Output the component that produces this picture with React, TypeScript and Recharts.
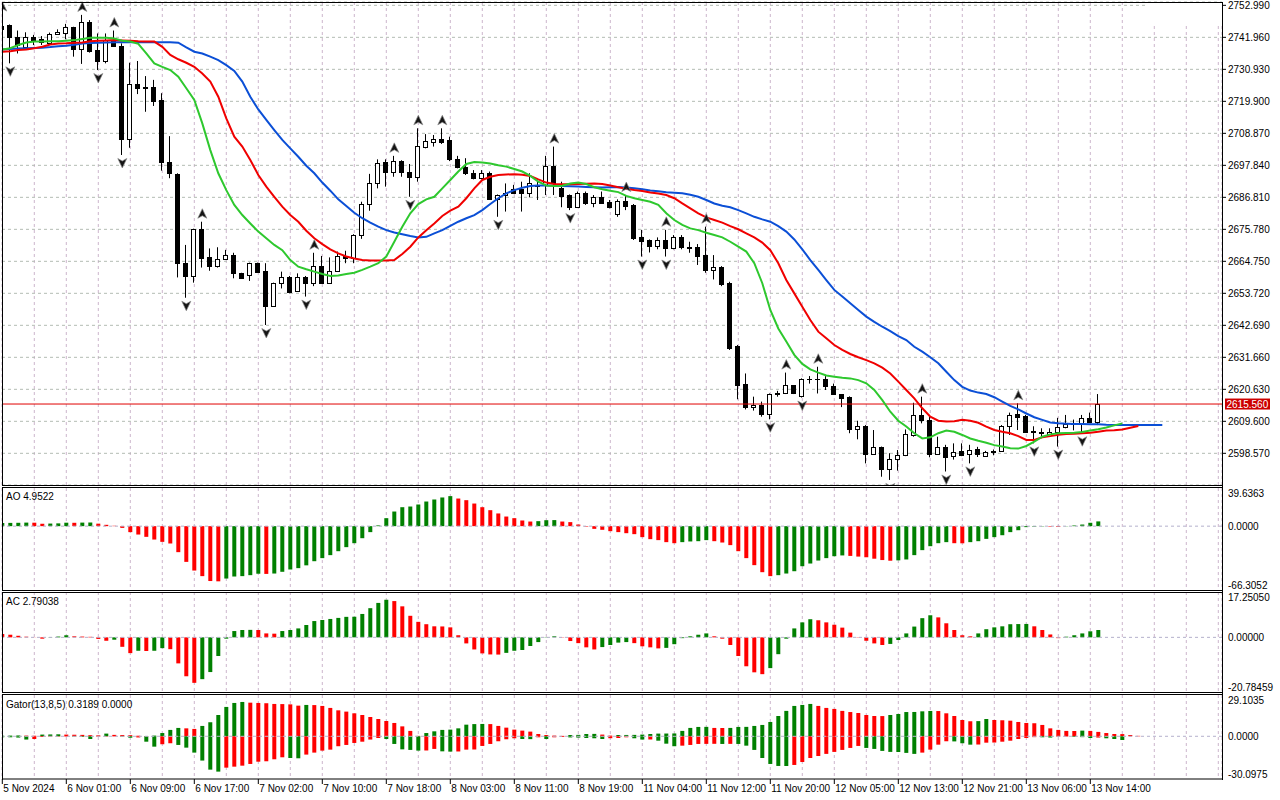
import React from "react";
import {
  ComposedChart,
  Bar,
  Line,
  Scatter,
  XAxis,
  YAxis,
  CartesianGrid,
  ReferenceLine,
  Cell,
} from "recharts";

// ---- data (H1 bars, index 0 = first bar on screen) ----
const xLabels = [
  "5 Nov 2024", "6 Nov 01:00", "6 Nov 09:00", "6 Nov 17:00", "7 Nov 02:00", "7 Nov 10:00",
  "7 Nov 18:00", "8 Nov 03:00", "8 Nov 11:00", "8 Nov 19:00", "11 Nov 04:00", "11 Nov 12:00",
  "11 Nov 20:00", "12 Nov 05:00", "12 Nov 13:00", "12 Nov 21:00", "13 Nov 06:00", "13 Nov 14:00",
];

const priceTicks = [
  2598.57, 2609.6, 2620.63, 2631.66, 2642.69, 2653.72, 2664.75, 2675.78,
  2686.81, 2697.84, 2708.87, 2719.9, 2730.93, 2741.96, 2752.99,
];

const open = [
  2744.8, 2746.2, 2742.0, 2738.7, 2742.0, 2741.3, 2739.9, 2743.0, 2743.3, 2745.4,
  2737.8, 2747.1, 2737.6, 2733.8, 2741.0, 2739.0, 2706.8, 2725.8, 2724.7, 2724.7,
  2720.4, 2698.9, 2694.9, 2664.1, 2659.8, 2675.8, 2666.1, 2663.2, 2665.4, 2666.9,
  2660.6, 2660.0, 2664.1, 2661.4, 2649.4, 2657.2, 2659.5, 2654.6, 2659.5, 2657.2,
  2663.2, 2657.4, 2661.5, 2666.6, 2665.8, 2673.8, 2684.5, 2691.6, 2698.9, 2695.7,
  2699.3, 2695.4, 2693.9, 2704.3, 2705.8, 2706.9, 2706.6, 2699.9, 2697.4, 2695.1,
  2693.4, 2695.1, 2686.1, 2687.6, 2689.6, 2689.6, 2688.4, 2691.1, 2691.1, 2697.6,
  2689.9, 2687.6, 2683.4, 2688.2, 2685.0, 2686.8, 2685.3, 2680.9, 2685.5, 2684.2,
  2673.0, 2672.1, 2670.2, 2672.1, 2669.2, 2673.0, 2669.6, 2669.6, 2666.9, 2661.9,
  2662.9, 2657.4, 2635.6, 2622.5, 2614.4, 2615.2, 2612.1, 2619.0, 2619.2, 2622.1,
  2618.4, 2624.1, 2624.1, 2624.1, 2621.8, 2618.9, 2618.1, 2606.8, 2608.0, 2598.3,
  2600.6, 2593.0, 2596.5, 2598.0, 2604.9, 2611.8, 2610.2, 2598.3, 2600.6, 2597.6,
  2599.4, 2598.3, 2599.9, 2597.6, 2599.0, 2599.4, 2607.9, 2612.1, 2611.5, 2606.2,
  2605.8, 2605.1, 2606.0, 2607.5, 2608.6, 2608.7, 2610.6, 2609.5,
];
const high = [
  2749.8, 2746.4, 2744.3, 2743.7, 2742.8, 2742.4, 2743.6, 2744.7, 2746.6, 2745.6,
  2749.7, 2747.9, 2743.3, 2743.3, 2744.3, 2739.9, 2733.2, 2733.8, 2728.6, 2727.3,
  2722.7, 2707.9, 2695.1, 2670.4, 2676.0, 2678.4, 2669.2, 2669.6, 2668.7, 2667.7,
  2660.8, 2664.3, 2664.3, 2664.1, 2657.4, 2661.2, 2659.7, 2660.6, 2659.7, 2667.7,
  2666.6, 2666.1, 2668.1, 2668.4, 2674.1, 2685.3, 2694.9, 2699.9, 2699.9, 2701.1,
  2699.6, 2698.3, 2710.6, 2708.6, 2708.3, 2710.6, 2707.7, 2701.1, 2700.3, 2696.2,
  2696.2, 2695.7, 2687.8, 2691.6, 2691.1, 2692.2, 2695.1, 2692.2, 2701.1, 2704.3,
  2692.2, 2687.8, 2688.8, 2688.8, 2687.6, 2688.8, 2685.9, 2686.1, 2687.6, 2684.5,
  2675.6, 2672.3, 2673.0, 2675.6, 2673.8, 2673.8, 2671.5, 2670.7, 2676.7, 2666.9,
  2663.1, 2657.7, 2635.9, 2626.1, 2618.1, 2616.4, 2619.2, 2620.1, 2626.4, 2622.1,
  2624.4, 2625.2, 2628.4, 2625.2, 2622.6, 2619.0, 2618.2, 2609.8, 2608.3, 2606.6,
  2600.9, 2598.6, 2599.7, 2606.8, 2616.0, 2618.1, 2611.8, 2604.3, 2601.5, 2602.0,
  2602.0, 2601.5, 2600.8, 2599.4, 2599.9, 2608.3, 2612.6, 2615.8, 2611.8, 2607.9,
  2607.2, 2607.2, 2610.8, 2611.8, 2610.2, 2611.8, 2612.6, 2619.0,
];
const low = [
  2744.3, 2733.0, 2736.4, 2738.2, 2739.3, 2739.3, 2739.7, 2742.8, 2741.3, 2735.3,
  2732.8, 2736.7, 2730.7, 2733.0, 2738.7, 2701.4, 2703.9, 2722.4, 2716.3, 2718.3,
  2696.0, 2693.4, 2659.2, 2652.2, 2657.4, 2662.6, 2661.5, 2662.6, 2665.2, 2658.9,
  2658.7, 2658.0, 2660.8, 2642.8, 2649.1, 2655.4, 2653.7, 2654.4, 2652.6, 2656.2,
  2657.2, 2657.4, 2661.2, 2664.1, 2664.1, 2672.5, 2682.2, 2689.9, 2690.5, 2693.9,
  2693.9, 2687.0, 2692.2, 2703.7, 2704.3, 2705.2, 2699.3, 2696.8, 2694.5, 2693.0,
  2693.0, 2685.9, 2680.1, 2681.9, 2688.2, 2681.9, 2686.8, 2685.9, 2687.6, 2687.6,
  2683.4, 2682.4, 2683.2, 2684.2, 2683.4, 2684.7, 2683.0, 2680.1, 2682.4, 2672.1,
  2666.4, 2667.8, 2668.9, 2666.4, 2668.9, 2668.9, 2667.7, 2663.5, 2660.8, 2658.5,
  2656.2, 2634.2, 2617.2, 2613.7, 2613.3, 2611.2, 2610.3, 2618.1, 2619.0, 2619.0,
  2617.8, 2622.6, 2619.2, 2620.4, 2618.7, 2614.5, 2605.5, 2603.4, 2595.1, 2598.0,
  2590.5, 2589.4, 2592.6, 2597.6, 2604.3, 2608.9, 2597.2, 2598.0, 2592.3, 2596.4,
  2597.6, 2595.1, 2597.3, 2597.3, 2597.9, 2599.1, 2604.9, 2606.6, 2605.7, 2602.0,
  2604.5, 2604.8, 2600.9, 2607.2, 2606.5, 2605.5, 2609.1, 2608.3,
];
const close = [
  2746.0, 2742.0, 2739.3, 2742.0, 2741.0, 2740.4, 2743.1, 2743.8, 2745.4, 2737.8,
  2747.1, 2737.4, 2733.9, 2741.0, 2739.0, 2706.8, 2725.8, 2724.4, 2724.4, 2720.1,
  2699.1, 2695.1, 2664.1, 2659.8, 2675.8, 2666.0, 2663.2, 2665.6, 2666.8, 2660.6,
  2658.9, 2664.1, 2661.2, 2649.4, 2657.2, 2659.5, 2654.3, 2659.5, 2657.2, 2663.2,
  2657.4, 2661.5, 2666.6, 2665.9, 2673.8, 2684.5, 2691.6, 2698.8, 2695.7, 2699.3,
  2695.4, 2693.9, 2704.5, 2706.1, 2706.9, 2706.0, 2699.9, 2697.4, 2695.1, 2693.4,
  2695.1, 2686.1, 2687.6, 2688.4, 2688.4, 2688.4, 2691.6, 2690.8, 2697.6, 2691.9,
  2687.3, 2683.4, 2688.2, 2684.7, 2687.0, 2685.0, 2683.6, 2685.5, 2683.9, 2672.9,
  2671.9, 2670.2, 2672.1, 2669.2, 2673.0, 2669.6, 2669.2, 2666.7, 2661.9, 2662.9,
  2656.8, 2634.8, 2622.1, 2614.4, 2615.2, 2612.1, 2618.9, 2619.2, 2622.1, 2619.2,
  2624.1, 2624.3, 2624.2, 2621.8, 2619.0, 2617.8, 2606.8, 2608.0, 2598.3, 2600.6,
  2593.0, 2596.5, 2598.0, 2605.2, 2611.8, 2610.1, 2598.5, 2600.6, 2597.4, 2599.1,
  2597.9, 2599.7, 2598.3, 2599.1, 2599.2, 2607.9, 2611.8, 2611.2, 2606.0, 2605.9,
  2605.6, 2606.0, 2607.5, 2608.7, 2608.8, 2610.6, 2609.5, 2615.56,
];

// Alligator lines (already shifted forward, so they run past the last bar)
const jaw = [
  2737.8, 2737.9, 2738.1, 2738.2, 2738.3, 2738.4, 2738.6, 2738.9, 2739.1, 2739.4,
  2739.8, 2740.0, 2740.1, 2740.2, 2740.3, 2740.3, 2740.3, 2740.3, 2740.3, 2740.3,
  2740.3, 2740.3, 2740.1, 2738.5, 2737.0, 2736.4, 2735.3, 2734.1, 2732.4, 2730.4,
  2726.7, 2721.5, 2717.1, 2713.5, 2710.0, 2706.6, 2703.7, 2700.8, 2697.7, 2695.1,
  2691.9, 2689.1, 2686.1, 2683.8, 2681.5, 2679.6, 2678.1, 2676.7, 2675.5, 2674.7,
  2674.1, 2673.5, 2673.0, 2673.2, 2674.4, 2675.5, 2677.0, 2678.4, 2679.6, 2680.7,
  2682.4, 2684.5, 2686.5, 2688.2, 2689.3, 2690.1, 2690.7, 2690.9, 2690.9, 2690.8,
  2690.7, 2690.6, 2690.5, 2690.4, 2690.3, 2690.2, 2690.3, 2690.4, 2690.2, 2689.9,
  2689.6, 2689.2, 2688.9, 2688.6, 2688.4, 2688.2, 2687.7, 2687.0, 2685.9, 2684.7,
  2683.9, 2683.4, 2682.4, 2681.3, 2680.1, 2679.2, 2678.4, 2676.9, 2675.0, 2672.3,
  2668.9, 2665.2, 2661.8, 2658.3, 2654.9, 2652.6, 2650.3, 2648.0, 2645.7, 2643.9,
  2642.2, 2640.7, 2639.0, 2637.6, 2635.3, 2633.6, 2631.7, 2629.6, 2626.7, 2623.8,
  2621.5, 2620.2, 2619.5, 2619.0, 2617.9, 2616.4, 2614.9, 2613.7, 2612.3, 2611.0,
  2610.1, 2609.2, 2608.9, 2608.8, 2608.7, 2608.7, 2608.6, 2608.6, 2608.4, 2608.3,
  2608.3, 2608.3, 2608.3, 2608.3, 2608.3, 2608.3,
];
const teeth = [
  2737.0, 2737.2, 2737.6, 2737.8, 2738.2, 2738.7, 2739.5, 2739.8, 2739.9, 2740.1,
  2740.2, 2740.6, 2740.8, 2740.9, 2741.0, 2740.9, 2740.8, 2740.6, 2740.5, 2740.5,
  2738.7, 2735.9, 2734.4, 2733.2, 2731.8, 2729.5, 2726.7, 2721.5, 2714.0, 2707.7,
  2704.3, 2699.7, 2694.5, 2690.5, 2687.0, 2683.6, 2680.7, 2678.4, 2675.3, 2672.7,
  2670.7, 2668.9, 2667.5, 2666.4, 2665.7, 2665.2, 2665.0, 2665.0, 2665.0, 2665.2,
  2667.3, 2669.8, 2673.0, 2675.5, 2677.8, 2680.4, 2682.2, 2683.6, 2686.5, 2689.9,
  2692.8, 2693.9, 2694.5, 2694.7, 2694.8, 2694.6, 2694.2, 2693.0, 2691.9, 2691.4,
  2691.3, 2691.3, 2691.4, 2691.5, 2691.6, 2691.4, 2690.9, 2690.3, 2689.8, 2689.3,
  2689.0, 2688.5, 2688.1, 2687.6, 2686.5, 2684.7, 2683.0, 2681.3, 2679.9, 2679.0,
  2678.1, 2676.9, 2675.8, 2674.4, 2673.0, 2671.2, 2668.6, 2664.1, 2658.3, 2653.7,
  2649.1, 2644.5, 2640.5, 2638.2, 2635.9, 2634.2, 2632.8, 2631.7, 2630.7, 2629.6,
  2628.1, 2626.1, 2623.3, 2620.4, 2617.5, 2614.1, 2611.2, 2609.8, 2609.5, 2609.6,
  2610.1, 2609.8, 2609.1, 2607.8, 2606.6, 2606.0, 2605.5, 2604.5, 2603.2, 2603.2,
  2604.1, 2604.5, 2605.0, 2605.2, 2605.3, 2605.5, 2605.7, 2606.0, 2606.4, 2606.5,
  2606.8, 2607.4, 2608.0,
];
const lips = [
  2737.8, 2738.2, 2739.3, 2740.2, 2740.5, 2740.5, 2740.6, 2740.6, 2740.8, 2741.0,
  2741.4, 2741.8, 2741.8, 2741.8, 2741.6, 2740.8, 2740.5, 2739.7, 2736.4, 2733.0,
  2731.8, 2730.7, 2728.4, 2724.4, 2720.4, 2712.3, 2703.1, 2695.1, 2689.3, 2684.2,
  2680.7, 2677.8, 2675.0, 2672.7, 2670.4, 2668.6, 2665.2, 2662.9, 2662.0, 2661.2,
  2660.4, 2659.7, 2659.9, 2660.4, 2660.8, 2661.8, 2662.9, 2664.1, 2666.4, 2671.5,
  2676.7, 2681.3, 2684.5, 2686.1, 2687.0, 2689.9, 2692.8, 2695.7, 2698.3, 2699.0,
  2698.8, 2698.5, 2697.9, 2697.4, 2696.6, 2695.7, 2694.2, 2692.2, 2690.9, 2690.7,
  2690.8, 2691.6, 2691.9, 2691.4, 2690.3, 2689.6, 2689.1, 2688.6, 2687.3, 2686.5,
  2685.9, 2685.3, 2684.2, 2681.3, 2679.0, 2677.3, 2676.1, 2675.5, 2674.6, 2673.8,
  2673.0, 2671.5, 2669.8, 2668.1, 2664.1, 2657.2, 2648.0, 2641.6, 2637.1, 2632.5,
  2629.4, 2627.5, 2626.4, 2625.4, 2625.0, 2624.6, 2624.4, 2623.8, 2622.7, 2620.4,
  2616.9, 2612.9, 2609.8, 2607.8, 2605.5, 2603.7, 2604.1, 2605.5, 2606.4, 2606.0,
  2604.9, 2603.7, 2602.9, 2602.2, 2601.4, 2600.9, 2600.3, 2600.2, 2601.1, 2602.6,
  2604.3, 2605.1, 2605.5, 2605.6, 2605.7, 2605.9, 2606.4, 2606.9, 2607.5, 2608.2,
  2608.9,
];

const fractalUp = [0, 10, 14, 25, 39, 49, 52, 55, 69, 78, 83, 88, 98, 102, 115, 127];
const fractalDown = [1, 12, 15, 23, 33, 38, 51, 62, 71, 80, 83, 96, 100, 111, 118, 121, 129, 132, 135];

const ao = [
  3.2, 3.4, 3.5, 3.7, 3.6, 2.5, 2.7, 2.9, 3.6, 3.5,
  3.7, 3.8, 2.6, 1.4, 0.4, -1.8, -6.2, -8.7, -11.1, -13.9,
  -16.3, -18.0, -27.0, -37.1, -46.1, -51.9, -57.0, -57.3, -54.4, -52.3,
  -51.9, -50.9, -49.4, -49.6, -49.2, -47.4, -45.0, -43.6, -40.7, -36.4,
  -33.2, -30.1, -26.0, -21.8, -17.7, -12.5, -6.2, 0.8, 8.3, 15.2,
  19.7, 20.4, 22.5, 25.6, 27.7, 29.8, 31.2, 28.7, 27.0, 23.5,
  19.7, 16.6, 13.2, 10.0, 8.3, 5.9, 4.8, 5.2, 6.2, 6.3,
  4.8, 4.2, 1.7, -0.5, -2.8, -3.8, -5.2, -6.2, -7.3, -8.3,
  -11.4, -13.5, -14.5, -16.6, -17.7, -16.6, -15.9, -15.6, -14.5, -15.6,
  -17.0, -19.7, -26.0, -33.2, -40.5, -47.8, -51.9, -50.9, -49.2, -46.8,
  -41.6, -38.8, -35.7, -33.2, -31.2, -30.4, -30.9, -31.6, -32.3, -33.8,
  -35.2, -35.9, -35.5, -34.6, -30.1, -24.9, -20.8, -17.7, -16.6, -17.7,
  -17.8, -16.6, -15.6, -13.2, -11.4, -9.4, -6.2, -4.2, -1.0, -0.6,
  -0.3, -0.5, -0.8, -0.2, 0.7, 1.7, 3.5, 4.9522,
];
const ac = [
  1.3, 1.0, 0.6, 0.25, 0.05, -0.5, -0.1, 0.3, 0.8, 0.4,
  0.3, 0.2, -0.6, -1.3, -0.9, -3.6, -6.0, -5.1, -5.2, -5.1,
  -4.1, -4.5, -9.9, -14.8, -17.3, -15.9, -13.2, -7.1, -0.5, 2.4,
  2.8, 2.85, 2.8, 1.5, 1.4, 2.4, 2.8, 3.4, 4.7, 6.2,
  6.6, 7.0, 7.4, 7.8, 7.85, 8.9, 11.1, 13.1, 14.3, 13.8,
  11.8, 8.2, 5.9, 5.0, 4.2, 4.15, 3.8, 0.8, -2.3, -4.6,
  -6.1, -6.5, -6.55, -5.9, -5.1, -4.8, -3.3, -1.8, -0.1, 0.4,
  -0.1, -1.4, -2.2, -3.8, -4.6, -3.7, -2.9, -2.0, -1.8, -2.2,
  -3.4, -3.8, -4.2, -4.0, -2.6, -0.3, 0.4, 1.0, 1.5, 0.4,
  -0.5, -2.9, -7.1, -11.0, -13.3, -14.0, -11.7, -6.4, -0.5, 3.4,
  5.7, 6.9, 6.5, 5.7, 4.8, 3.7, 1.8, -0.1, -1.3, -2.3,
  -2.9, -2.5, -1.0, 1.5, 4.1, 7.3, 8.4, 7.6, 5.35, 2.8,
  0.8, 0.4, 1.5, 3.1, 3.8, 4.2, 5.0, 5.05, 5.1, 4.2,
  2.8, 1.1, -0.3, 0.25, 0.8, 1.5, 2.3, 2.79038,
];
const gatorUpper = [
  0.4, 0.5, 0.6, 0.5, 0.4, 1.2, 1.3, 1.4, 1.2, 1.1,
  1.0, 0.8, 0.7, 1.9, 1.0, 0.9, 0.8, 0.4, 0.2, 0.5,
  2.3, 4.5, 5.9, 5.6, 5.2, 7.3, 9.9, 15.0, 20.7, 23.5,
  24.2, 23.7, 23.5, 23.3, 22.8, 22.7, 22.5, 21.6, 22.1, 22.0,
  21.4, 20.0, 18.3, 17.4, 16.2, 15.0, 13.6, 12.2, 10.8, 9.4,
  7.0, 3.8, 0.3, 2.3, 3.5, 4.5, 4.7, 5.6, 8.2, 8.6,
  8.7, 8.6, 7.3, 6.1, 4.7, 4.0, 3.3, 1.6, 0.9, 0.5,
  0.3, 0.9, 1.0, 1.6, 1.7, 1.2, 0.5, 0.9, 0.95, 1.0,
  1.2, 1.6, 1.9, 1.95, 2.0, 3.8, 5.9, 6.6, 6.65, 5.9,
  5.85, 5.9, 6.6, 6.65, 7.3, 8.0, 10.1, 14.3, 17.9, 21.4,
  22.1, 22.8, 21.4, 20.0, 19.3, 17.9, 17.1, 16.4, 15.0, 14.3,
  14.25, 15.0, 15.7, 17.1, 17.15, 17.6, 17.85, 17.8, 16.2, 14.3,
  11.5, 10.6, 10.7, 12.2, 11.5, 11.3, 11.0, 10.1, 9.4, 9.2,
  8.0, 5.6, 4.5, 3.8, 3.75, 4.0, 3.8, 3.1, 2.3, 1.6,
  1.55, 0.9, 0.3189,
];
const gatorLower = [
  -0.6, -0.7, -0.9, -2.3, -1.9, -0.5, -0.3, -0.2, -0.2, -0.3,
  -0.4, -1.9, -0.3, -0.2, -0.1, -0.3, -1.0, -0.8, -3.8, -7.3,
  -5.6, -4.9, -6.1, -8.0, -11.5, -17.1, -23.5, -24.9, -22.1, -21.4,
  -20.7, -19.5, -17.9, -17.6, -16.2, -14.8, -15.3, -15.5, -12.9, -11.5,
  -10.1, -9.4, -7.0, -6.1, -4.7, -3.8, -2.3, -1.2, -1.9, -5.4,
  -9.2, -9.6, -10.1, -10.0, -8.9, -10.6, -10.8, -10.7, -9.4, -9.3,
  -6.8, -5.4, -3.5, -2.1, -1.4, -1.9, -2.0, -0.7, -1.9, -0.7,
  -0.5, -0.8, -0.9, -1.2, -1.4, -1.9, -1.35, -1.2, -0.7, -1.4,
  -2.3, -2.25, -3.1, -5.2, -7.0, -6.6, -6.1, -5.4, -5.35, -5.3,
  -5.4, -5.35, -5.4, -6.6, -9.6, -15.3, -19.5, -20.9, -20.95, -20.2,
  -18.1, -15.3, -13.9, -12.4, -11.0, -9.6, -8.2, -6.8, -8.2, -8.9,
  -10.3, -11.0, -11.05, -11.7, -12.4, -11.5, -9.4, -5.9, -3.5, -3.6,
  -4.9, -5.9, -5.8, -4.5, -4.4, -3.8, -3.1, -1.9, -1.2, -0.6,
  -0.7, -0.9, -0.3, -0.2, -0.4, -0.6, -1.2, -0.9, -1.4, -1.9,
  -2.6,
];

// ---- look ----
const FONT = "'Liberation Sans', Arial, sans-serif";
const FS = 10;
const GREEN = "#008000";
const RED = "#ff0000";
const GRID_V = "#ccb6cc";
const GRID_H = "#b4bcb4";
const BARS_PER_LABEL = 8;
const X_DOMAIN: [number, number] = [-0.0375, 152.4625];
const gridBars = Array.from({ length: 38 }, (_, k) => 4 * (k + 1));
const labelBars = xLabels.map((_, k) => k * BARS_PER_LABEL);
const lastClose = close[close.length - 1];

const priceRows = jaw.map((j, i) => ({
  i,
  range: i < close.length ? [low[i], high[i]] : undefined,
  open: open[i],
  close: close[i],
  jaw: j,
  teeth: teeth[i],
  lips: lips[i],
}));
const upMarks = fractalUp.map((i) => ({ i, y: high[i] }));
const downMarks = fractalDown.map((i) => ({ i, y: low[i] }));
const aoRows = ao.map((v, i) => ({ i, v }));
const acRows = ac.map((v, i) => ({ i, v }));
const gatorRows = gatorUpper.map((u, i) => ({ i, up: u, dn: gatorLower[i] }));

function swingColors(vals: number[], first: string, byMagnitude = false) {
  const out: string[] = [];
  vals.forEach((v, i) => {
    if (i === 0) {
      out.push(first);
      return;
    }
    const a = byMagnitude ? Math.abs(v) : v;
    const b = byMagnitude ? Math.abs(vals[i - 1]) : vals[i - 1];
    out.push(a > b ? GREEN : a < b ? RED : out[i - 1]);
  });
  return out;
}
const aoColors = swingColors(ao, GREEN);
const acColors = swingColors(ac, RED);
const upColors = swingColors(gatorUpper, GREEN, true);
const dnColors = swingColors(gatorLower, GREEN, true);

function Candle(props: any) {
  const { x, y, width, height, payload } = props;
  if (!payload || payload.open == null || !payload.range) return null;
  const [lo, hi] = payload.range;
  const top = Math.min(y, y + height);
  const h = Math.abs(height);
  if (!(hi > lo)) return null;
  const py = (v: number) => top + ((hi - v) / (hi - lo)) * h;
  const cx = Math.floor(x + width / 2) + 0.5;
  const yo = py(payload.open);
  const yc = py(payload.close);
  const bt = Math.round(Math.min(yo, yc)) + 0.5;
  const bb = Math.round(Math.max(yo, yc)) + 0.5;
  const bull = payload.close >= payload.open;
  return (
    <g>
      <line x1={cx} x2={cx} y1={top} y2={top + h} stroke="#000" strokeWidth={1} />
      {bb - bt < 1 ? (
        <line x1={cx - 2.5} x2={cx + 2.5} y1={bt} y2={bt} stroke="#000" strokeWidth={1} />
      ) : (
        <rect x={cx - 2} y={bt} width={4} height={bb - bt} fill={bull ? "#fff" : "#000"} stroke="#000" strokeWidth={1} />
      )}
    </g>
  );
}

const fractalShape = (dir: number) => (p: any) => {
  if (p.cx == null || p.cy == null) return <g />;
  const d = dir < 0 ? "M0,-5 L4.5,4.5 L0,2 L-4.5,4.5 Z" : "M0,5 L4.5,-4.5 L0,-2 L-4.5,-4.5 Z";
  return (
    <path d={d} transform={`translate(${p.cx},${p.cy + dir * 8})`} fill="#151515" stroke="#8a8a8a" strokeWidth={0.7} />
  );
};

function PriceTag(props: any) {
  const vb = props.viewBox;
  if (!vb) return null;
  const x = vb.x + vb.width + 3;
  const y = vb.y;
  return (
    <g>
      <rect x={x} y={y - 5.5} width={45} height={11} fill="#cc0000" />
      <text x={x + 1.5} y={y} dy="0.36em" fontSize={FS} fontFamily={FONT} fill="#fff">
        {lastClose.toFixed(3)}
      </text>
    </g>
  );
}

const priceTick = (p: any) => (
  <text x={p.x} y={p.y} dy="0.36em" fontSize={FS} fontFamily={FONT} fill="#000" textAnchor="start">
    {Number(p.payload.value).toFixed(3)}
  </text>
);

const edgeTick = (h: number, digits: number) => (p: any) => {
  const y = Math.min(Math.max(p.y, 5), h - 5);
  return (
    <text x={p.x} y={y} dy="0.36em" fontSize={FS} fontFamily={FONT} fill="#000" textAnchor="start">
      {Number(p.payload.value).toFixed(digits)}
    </text>
  );
};

const timeTick = (p: any) => (
  <text x={p.x + 1} y={p.y + 6} fontSize={FS} fontFamily={FONT} fill="#000" textAnchor="start">
    {xLabels[Math.round(p.payload.value / BARS_PER_LABEL)]}
  </text>
);

const margin = { top: 0, right: 0, bottom: 0, left: 2 };

function PricePanel() {
  return (
    <ComposedChart width={1280} height={485} data={priceRows} margin={{ ...margin, top: 2 }}>
      <CartesianGrid horizontal={false} stroke={GRID_V} strokeDasharray="3 3" />
      <CartesianGrid vertical={false} stroke={GRID_H} strokeDasharray="3 3" />
      <XAxis dataKey="i" type="number" domain={X_DOMAIN} allowDataOverflow ticks={gridBars} hide />
      <YAxis
        orientation="right"
        width={58}
        domain={[2587.65, 2754.14]}
        allowDataOverflow
        ticks={priceTicks}
        interval={0}
        axisLine={false}
        tickLine={{ stroke: "#000" }}
        tickSize={4}
        tickMargin={2}
        tick={priceTick}
      />
      <ReferenceLine y={lastClose} stroke="#e00000" strokeWidth={1} label={<PriceTag />} />
      <Bar dataKey="range" barSize={5} shape={<Candle />} isAnimationActive={false} />
      <Line dataKey="jaw" stroke="#0b4fd6" strokeWidth={2} dot={false} isAnimationActive={false} />
      <Line dataKey="teeth" stroke="#f00000" strokeWidth={2} dot={false} isAnimationActive={false} />
      <Line dataKey="lips" stroke="#2ec82e" strokeWidth={2} dot={false} isAnimationActive={false} />
      <Scatter data={upMarks} dataKey="y" shape={fractalShape(-1)} isAnimationActive={false} />
      <Scatter data={downMarks} dataKey="y" shape={fractalShape(1)} isAnimationActive={false} />
    </ComposedChart>
  );
}

function HistPanel({ rows, colors, domain, height, digits }: any) {
  return (
    <ComposedChart width={1280} height={height} data={rows} margin={margin}>
      <CartesianGrid horizontal={false} stroke={GRID_V} strokeDasharray="3 3" />
      <XAxis dataKey="i" type="number" domain={X_DOMAIN} allowDataOverflow ticks={gridBars} hide />
      <YAxis
        orientation="right"
        width={58}
        domain={domain}
        allowDataOverflow
        ticks={[domain[0], 0, domain[1]]}
        interval={0}
        axisLine={false}
        tickLine={false}
        tickSize={4}
        tickMargin={2}
        tick={edgeTick(height, digits)}
      />
      <ReferenceLine y={0} stroke="#b4b0cc" strokeDasharray="3 3" />
      <Bar dataKey="v" barSize={4} isAnimationActive={false}>
        {rows.map((r: any) => (
          <Cell key={r.i} fill={colors[r.i]} />
        ))}
      </Bar>
    </ComposedChart>
  );
}

function GatorPanel() {
  const domain: [number, number] = [-30.0975, 29.1035];
  return (
    <ComposedChart width={1280} height={105} data={gatorRows} margin={margin} stackOffset="sign">
      <CartesianGrid xAxisId="grid" horizontal={false} stroke={GRID_V} strokeDasharray="3 3" />
      <XAxis
        dataKey="i"
        type="number"
        domain={X_DOMAIN}
        allowDataOverflow
        ticks={labelBars}
        interval={0}
        height={21}
        tickSize={5}
        tickMargin={2}
        axisLine={{ stroke: "#000" }}
        tickLine={{ stroke: "#000" }}
        tick={timeTick}
      />
      <XAxis xAxisId="grid" dataKey="i" type="number" domain={X_DOMAIN} allowDataOverflow ticks={gridBars} hide />
      <YAxis
        orientation="right"
        width={58}
        domain={domain}
        allowDataOverflow
        ticks={[domain[0], 0, domain[1]]}
        interval={0}
        axisLine={false}
        tickLine={false}
        tickSize={4}
        tickMargin={2}
        tick={edgeTick(84, 4)}
      />
      <ReferenceLine y={0} stroke="#b4b0cc" strokeDasharray="3 3" />
      <Bar dataKey="up" stackId="g" barSize={4} isAnimationActive={false}>
        {gatorRows.map((r) => (
          <Cell key={r.i} fill={upColors[r.i]} />
        ))}
      </Bar>
      <Bar dataKey="dn" stackId="g" barSize={4} isAnimationActive={false}>
        {gatorRows.map((r) => (
          <Cell key={r.i} fill={dnColors[r.i] || GREEN} />
        ))}
      </Bar>
    </ComposedChart>
  );
}

const abs = (top: number): React.CSSProperties => ({ position: "absolute", left: 0, top });
const frame = (top: number, height: number, bottom = true): React.CSSProperties => ({
  position: "absolute",
  left: 2,
  top,
  width: 1220,
  height,
  boxSizing: "border-box",
  borderTop: "1px solid #000",
  borderLeft: "1px solid #000",
  borderBottom: bottom ? "1px solid #000" : "none",
  pointerEvents: "none",
});
const caption: React.CSSProperties = {
  position: "absolute",
  left: 6,
  fontFamily: FONT,
  fontSize: FS,
  lineHeight: "11px",
  color: "#000",
  whiteSpace: "nowrap",
};

export default function App() {
  return (
    <div style={{ position: "relative", width: 1280, height: 800, background: "#fff", overflow: "hidden" }}>
      <style>{"body{margin:0;background:#fff}"}</style>
      <div style={abs(0)}>
        <PricePanel />
      </div>
      <div style={abs(488)}>
        <HistPanel rows={aoRows} colors={aoColors} domain={[-66.3052, 39.6363]} height={102} digits={4} />
      </div>
      <div style={abs(592)}>
        <HistPanel rows={acRows} colors={acColors} domain={[-20.78459, 17.2505]} height={100} digits={5} />
      </div>
      <div style={abs(695)}>
        <GatorPanel />
      </div>

      <div style={{ position: "absolute", left: 1147, top: 3, width: 75, height: 22, background: "#fff" }} />
      <div style={frame(2, 484)} />
      <div style={frame(487, 104)} />
      <div style={frame(592, 101)} />
      <div style={frame(694, 86, false)} />
      <div style={{ position: "absolute", left: 1222, top: 2, width: 1, height: 778, background: "#000" }} />

      <div style={{ ...caption, top: 491 }}>AO {ao[ao.length - 1].toFixed(4)}</div>
      <div style={{ ...caption, top: 596 }}>AC {ac[ac.length - 1].toFixed(5)}</div>
      <div style={{ ...caption, top: 699 }}>
        Gator(13,8,5) {gatorUpper[gatorUpper.length - 1].toFixed(4)} 0.0000
      </div>
    </div>
  );
}
